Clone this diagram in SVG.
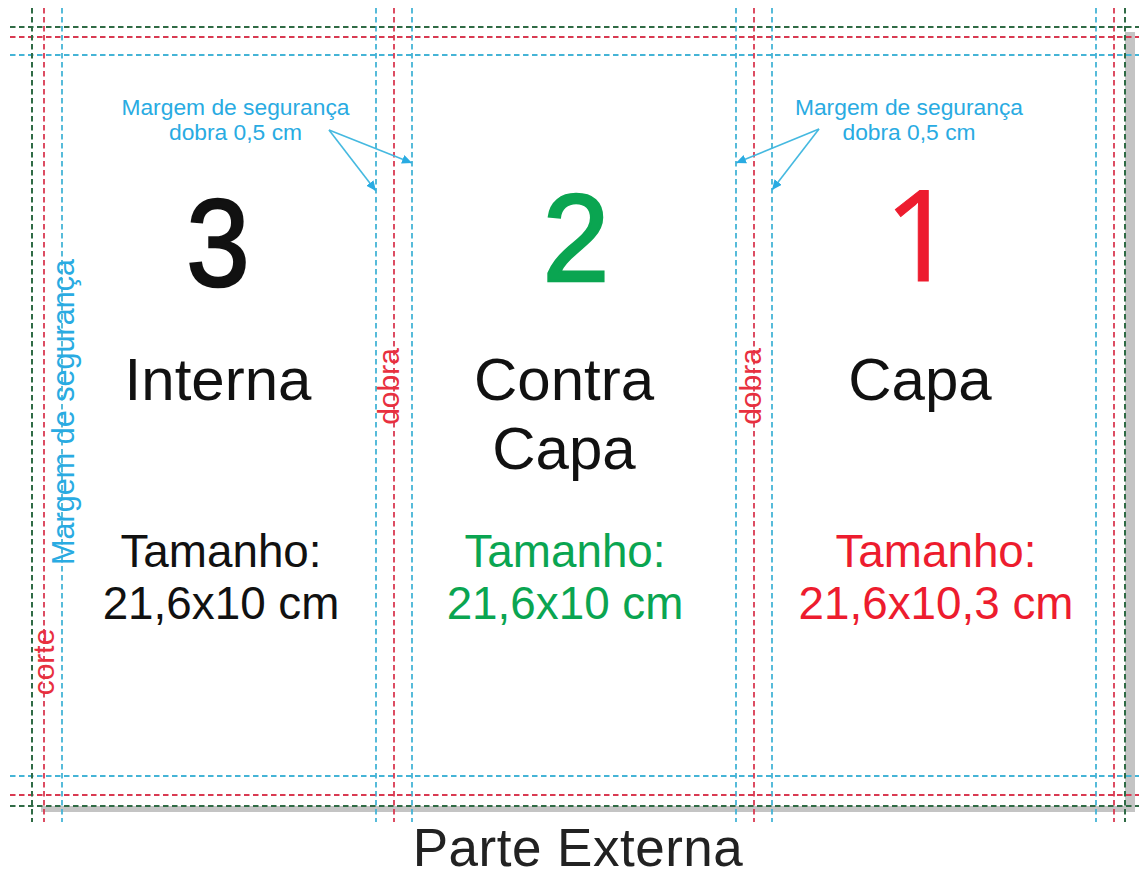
<svg xmlns="http://www.w3.org/2000/svg" width="1139" height="877" viewBox="0 0 1139 877">
<style>
text{font-family:"Liberation Sans",Arial,sans-serif;text-anchor:middle}
.g{stroke:#2f6b45;fill:none;stroke-width:2;stroke-dasharray:5.5 3.5}
.r{stroke:#d93a52;fill:none;stroke-width:1.8;stroke-dasharray:5.5 3.5}
.b{stroke:#45b4d6;fill:none;stroke-width:1.8;stroke-dasharray:5.5 3.5}
.a{stroke:#45b9e0;fill:none;stroke-width:1.6;marker-end:url(#arr)}
.k{fill:#111}.gr{fill:#0aa551}.rd{fill:#ed1c2e}.bl{fill:#29abe2}.d{fill:#e8303f}
.big{font-size:124px;stroke-width:2.5}
.h{font-size:60px}.t{font-size:45.8px}.n{font-size:22.8px}.s{font-size:30px}
</style>
<defs><marker id="arr" markerUnits="userSpaceOnUse" markerWidth="12" markerHeight="10" refX="10" refY="4.5" orient="auto"><path d="M0 0L10 4.5L0 9Z" fill="#29abe2"/></marker></defs>
<rect width="1139" height="877" fill="#fff"/>
<g id="shadow" fill="#c4c4c4"><rect x="1125" y="32" width="10" height="780"/><rect x="41" y="806" width="1094" height="6"/></g>
<g id="guides">
<path class="b" d="M10 55H1139M10 776H1139M62 8V822M376 8V822M412 8V822M736 8V822M772 8V822M1096 8V822"/>
<path class="r" d="M10 37H1139M10 795H1139M44 8V822M394 8V822M754 8V822M1114 8V822"/>
<path class="g" d="M10 27H1139M10 806H1139M32 8V822M1125 8V822"/>
</g>
<g id="connectors">
<path class="a" d="M329 130L376 191"/><path class="a" d="M329 130L412 163"/>
<path class="a" d="M819 129L736 163"/><path class="a" d="M819 129L772 190"/>
</g>
<g id="panel-3">
<text transform="translate(218 286) scale(.92 1)" class="big k" stroke="#111">3</text>
<text x="218" y="400" class="h k">Interna</text>
<text x="221" y="567" class="t k">Tamanho:</text>
<text x="221" y="619" class="t k">21,6x10 cm</text>
</g>
<g id="panel-2">
<text transform="translate(576 281) scale(.97 1)" class="big gr" stroke="#0aa551">2</text>
<text x="564" y="400" class="h k">Contra</text>
<text x="564" y="469" class="h k">Capa</text>
<text x="565" y="567" class="t gr">Tamanho:</text>
<text x="565" y="619" class="t gr">21,6x10 cm</text>
</g>
<g id="panel-1">
<text x="920" y="281" style="font-family:'Open Sans','Liberation Sans',sans-serif;font-size:126px" class="rd" stroke="#ed1c2e" stroke-width="1">1</text>
<text x="920" y="400" class="h k">Capa</text>
<text x="936" y="567" class="t rd">Tamanho:</text>
<text x="936" y="619" class="t rd">21,6x10,3 cm</text>
</g>
<g id="notes">
<text x="235.5" y="115" class="n bl">Margem de segurança</text>
<text x="235.5" y="140" class="n bl">dobra 0,5 cm</text>
<text x="909" y="115" class="n bl">Margem de segurança</text>
<text x="909" y="140" class="n bl">dobra 0,5 cm</text>
</g>
<g id="side-labels">
<text transform="translate(74 412) rotate(-90)" class="s bl" style="font-size:30.6px">Margem de segurança</text>
<text transform="translate(54 662) rotate(-90)" class="s d">corte</text>
<text transform="translate(399 386.5) rotate(-90)" class="s d">dobra</text>
<text transform="translate(761 386.5) rotate(-90)" class="s d">dobra</text>
</g>
<text id="title" x="578" y="865.5" font-size="53" letter-spacing=".5" fill="#222">Parte Externa</text>
</svg>
